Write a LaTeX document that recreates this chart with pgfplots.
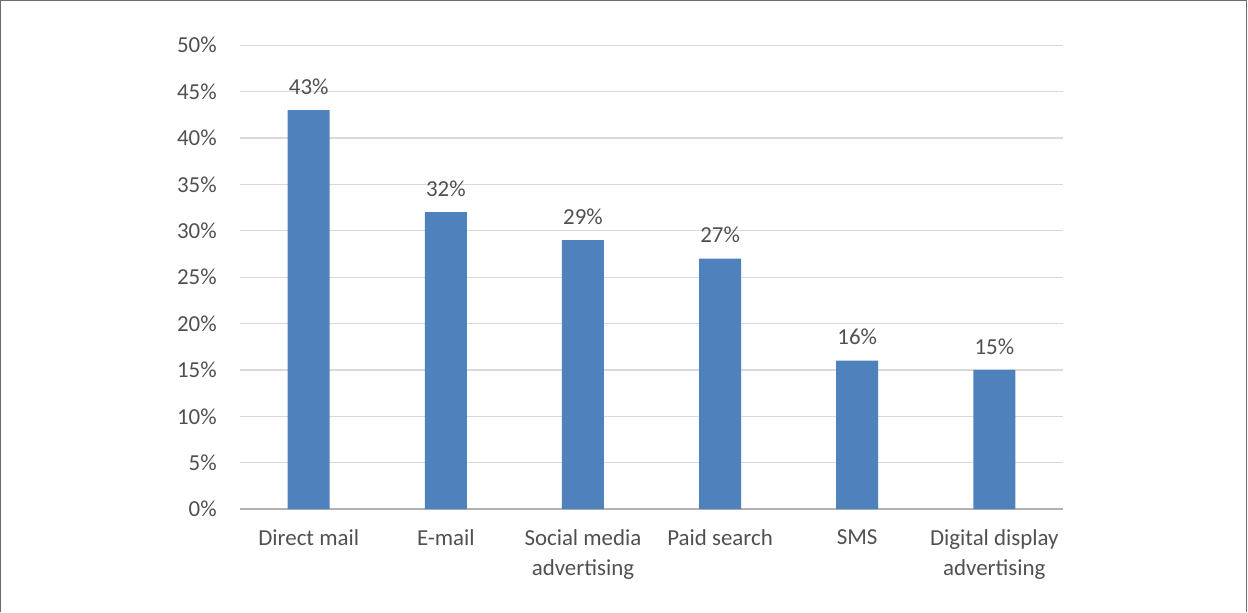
\documentclass[border=0pt]{standalone}
\usepackage{pgfplots}
\pgfplotsset{compat=1.18}
\usepackage{fontspec}
\setmainfont{Carlito}
\definecolor{barblue}{HTML}{4F81BD}
\definecolor{txtgray}{HTML}{505050}
\definecolor{gridgray}{HTML}{D9D9D9}
\begin{document}
\begin{tikzpicture}[x=1bp,y=1bp]
\draw[white] (-240,-103) rectangle (1008,509);
\draw[gray!85!black,line width=1.5bp] (-239.5,-103) -- (-239.5,508.5) -- (1006.5,508.5) -- (1006.5,-103);
\begin{axis}[
  at={(0,0)}, anchor=south west,
  scale only axis, width=823bp, height=464bp,
  xmin=-0.5, xmax=5.5, ymin=0, ymax=50,
  ytick={0,5,...,50},
  yticklabel={\pgfmathprintnumber{\tick}\%},
  /pgf/number format/assume math mode=true,
  xtick=data,
  xticklabels={Direct mail,E-mail,Social media\\advertising,Paid search,SMS,Digital display\\advertising},
  xticklabel style={align=center, text=txtgray, font=\fontsize{23}{30}\selectfont, yshift=-17bp},
  yticklabel style={text=txtgray, font=\fontsize{23}{26}\selectfont, xshift=-20bp},
  major tick length=0pt,
  axis x line*=bottom, axis y line*=left,
  x axis line style={draw=gray!60, line width=1.2bp},
  y axis line style={draw=none},
  ymajorgrids, grid style={draw=gridgray, line width=1.2bp},
  axis line style={-},
  tick style={draw=none},
  ybar, bar width=42bp,
  nodes near coords={\pgfmathprintnumber{\pgfplotspointmeta}\%},
  nodes near coords style={text=txtgray, font=\fontsize{23}{26}\selectfont, /pgf/number format/assume math mode=true, yshift=12bp},
  clip=false,
]
\addplot[fill=barblue, draw=none] coordinates {(0,43) (1,32) (2,29) (3,27) (4,16) (5,15)};
\end{axis}
\end{tikzpicture}
\end{document}
